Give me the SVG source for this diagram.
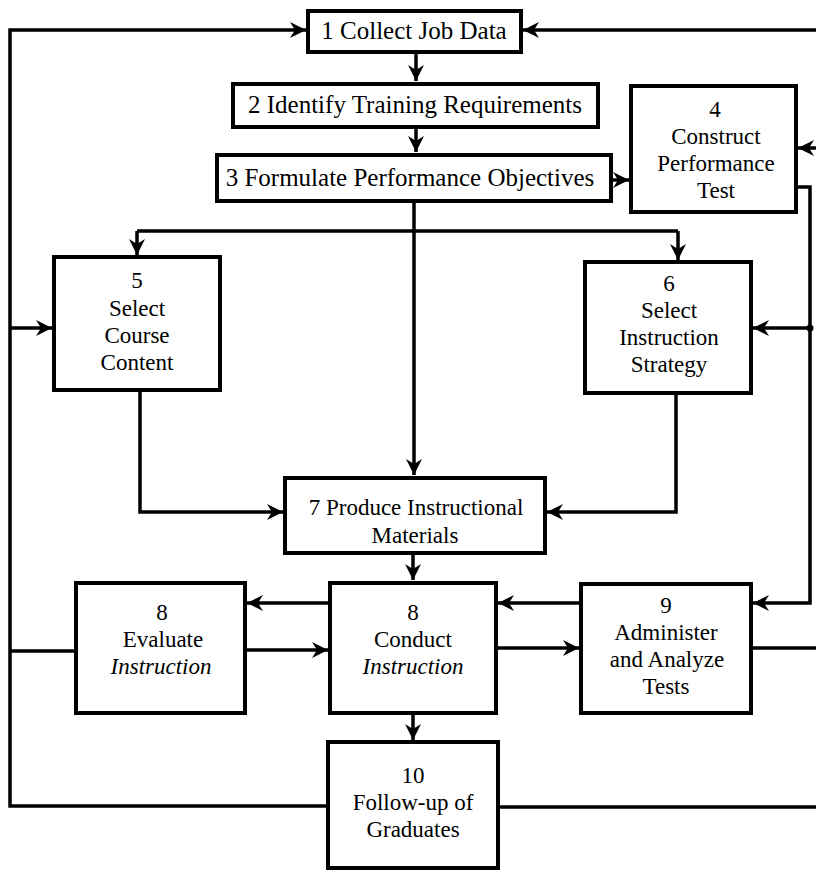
<svg xmlns="http://www.w3.org/2000/svg" width="816" height="872" viewBox="0 0 816 872">
<style>
.box{fill:#fff;stroke:#000;stroke-width:4}
.c{fill:none;stroke:#000;stroke-width:3.5}
.a{marker-end:url(#ah)}
text{font-family:"Liberation Serif","Times New Roman",serif;font-size:23px;fill:#000;text-anchor:middle}
.big{font-size:25px}
.it{font-style:italic}
</style>
<defs>
<marker id="ah" markerUnits="userSpaceOnUse" markerWidth="18" markerHeight="18" refX="16" refY="8" orient="auto">
<path d="M0,0 L16,8 L0,16 L5,8 z" fill="#000"/>
</marker>
</defs>
<rect width="816" height="872" fill="#fff"/>
<g id="connectors">
<path class="c a" d="M416,52 V81"/>
<path class="c a" d="M416,127 V152"/>
<path class="c a" d="M611,180 H629"/>
<path class="c a" d="M414,201 V475"/>
<path class="c" d="M137,231 H678"/>
<path class="c a" d="M137,231 V255"/>
<path class="c a" d="M678,231 V260"/>
<path class="c a" d="M140,390 V512 H283"/>
<path class="c a" d="M676,393 V512 H547"/>
<path class="c a" d="M413,553 V580"/>
<path class="c a" d="M330,603 H247"/>
<path class="c a" d="M245,650 H328"/>
<path class="c a" d="M496,648 H579"/>
<path class="c a" d="M581,603 H498"/>
<path class="c a" d="M413,713 V740"/>
<path class="c a" d="M328,806 H10 V30 H306"/>
<path class="c a" d="M10,328 H52"/>
<path class="c" d="M10,651 H76"/>
<path class="c a" d="M796,187 H810 V603 H753"/>
<path class="c a" d="M810,328 H753"/>
<circle cx="810" cy="328" r="3.5" fill="#000"/>
<path class="c a" d="M816,30 H523"/>
<path class="c a" d="M816,148 H798"/>
<path class="c" d="M751,648 H816"/>
<path class="c" d="M498,807 H816"/>
</g>
<g id="n1"><rect class="box" x="308" y="11" width="213" height="41"/><text class="big" x="414" y="39">1 Collect Job Data</text></g>
<g id="n2"><rect class="box" x="233" y="84" width="365" height="43"/><text class="big" x="415" y="113">2 Identify Training Requirements</text></g>
<g id="n3"><rect class="box" x="217" y="155" width="394" height="46"/><text class="big" x="410" y="186">3 Formulate Performance Objectives</text></g>
<g id="n4"><rect class="box" x="631" y="86" width="165" height="126"/><text x="715" y="117">4</text><text x="716" y="144">Construct</text><text x="716" y="171">Performance</text><text x="716" y="198">Test</text></g>
<g id="n5"><rect class="box" x="54" y="257" width="166" height="133"/><text x="137" y="288">5</text><text x="137" y="316">Select</text><text x="137" y="343">Course</text><text x="137" y="370">Content</text></g>
<g id="n6"><rect class="box" x="585" y="262" width="166" height="131"/><text x="669" y="291">6</text><text x="669" y="318">Select</text><text x="669" y="345">Instruction</text><text x="669" y="372">Strategy</text></g>
<g id="n7"><rect class="box" x="285" y="478" width="260" height="75"/><text x="416" y="515">7 Produce Instructional</text><text x="415" y="543">Materials</text></g>
<g id="n8e"><rect class="box" x="76" y="583" width="169" height="130"/><text x="162" y="620">8</text><text x="163" y="647">Evaluate</text><text class="it" x="161" y="674">Instruction</text></g>
<g id="n8c"><rect class="box" x="330" y="583" width="166" height="130"/><text x="413" y="620">8</text><text x="413" y="647">Conduct</text><text class="it" x="413" y="674">Instruction</text></g>
<g id="n9"><rect class="box" x="581" y="584" width="170" height="129"/><text x="666" y="613">9</text><text x="666" y="640">Administer</text><text x="667" y="667">and Analyze</text><text x="666" y="694">Tests</text></g>
<g id="n10"><rect class="box" x="328" y="742" width="170" height="126"/><text x="413" y="783">10</text><text x="413" y="810">Follow-up of</text><text x="413" y="837">Graduates</text></g>
</svg>
